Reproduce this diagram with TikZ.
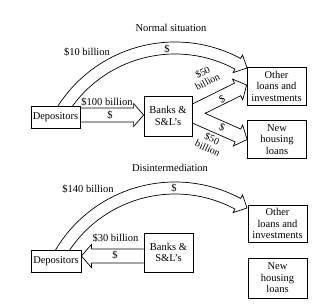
\documentclass[tikz,border=0pt]{standalone}
\usepackage{fontspec}
\setmainfont{Liberation Serif}
\usetikzlibrary{calc,backgrounds}

\def\shaftw{7pt}
\def\headw{11.5pt}
\def\headlen{10pt}
% corner points of a hollow arrow from #2 to #3
\newcommand\fatpts[3]{%
  \coordinate (#1h) at ($(#3)!\headlen!(#2)$);
  \coordinate (#1tl) at ($(#2)!\shaftw!90:(#3)$);
  \coordinate (#1tr) at ($(#2)!\shaftw!-90:(#3)$);
  \coordinate (#1bl) at ($(#1h)!\shaftw!90:(#3)$);
  \coordinate (#1br) at ($(#1h)!\shaftw!-90:(#3)$);
  \coordinate (#1hl) at ($(#1h)!\headw!90:(#3)$);
  \coordinate (#1hr) at ($(#1h)!\headw!-90:(#3)$);
}

\begin{document}
\begin{tikzpicture}[x=1pt,y=1pt,
box/.style={draw, line width=0.8pt, fill=white, align=center, inner sep=1pt, font=\fontsize{10.5}{11.5}\selectfont},
fat/.style={draw, line width=0.7pt, fill=white, line join=miter},
lbl/.style={inner sep=0pt, font=\fontsize{10.5}{11.5}\selectfont},
rlbl/.style={inner sep=0pt, align=center, font=\fontsize{10}{10.5}\selectfont},]
\useasboundingbox (0,0) rectangle (320,303);

% normal situation
\node[lbl] (title1) at (171,275) {Normal situation};
\node[box, minimum width=49pt, minimum height=22pt] (dep1) at (55.5,186) {Depositors};
\node[box, minimum width=48pt, minimum height=40pt] (bank1) at (168,187) {Banks \&\\S\&L's};
\node[box, minimum width=59pt, minimum height=38pt] (oth1) at (276.5,217) {Other\\loans and\\investments};
\node[box, minimum width=59pt, minimum height=38pt] (new1) at (277,163.5) {New\\housing\\loans};

\begin{scope}[on background layer]
  \coordinate (c1) at (175,122);
  \draw[fat] ($(c1)+(147.3:139)$) arc[start angle=147.3, end angle=61.8, radius=139]
    -- ($(c1)+(61.8:143)$) -- ($(c1)+(57.5:134)$) -- ($(c1)+(61.8:123)$)
    -- ($(c1)+(61.8:127)$) arc[start angle=61.8, end angle=143.8, radius=127];
  \coordinate (s1a) at ($(dep1.east)+(0,2)$);
  \coordinate (s1b) at (bank1.west |- s1a);
  \fatpts{s}{s1a}{s1b}
  \draw[fat] (stl) -- (sbl) -- (shl) -- (s1b) -- (shr) -- (sbr) -- (str);
  \coordinate (f1a) at ($(bank1.east)+(0,4.2)$);
  \coordinate (f1b) at ($(oth1.west)+(0,1)$);
  \coordinate (f2a) at ($(bank1.east)+(0,0.6)$);
  \coordinate (f2b) at (new1.west);
  \fatpts{u}{f1a}{f1b}
  \fatpts{d}{f2a}{f2b}
  \draw[fat] (utl) -- (ubl) -- (uhl) -- (f1b) -- (uhr) -- (ubr)
    -- (intersection of ubr--utr and dtl--dbl)
    -- (dbl) -- (dhl) -- (f2b) -- (dhr) -- (dbr) -- (dtr);
\end{scope}

\node[lbl] (l10) at (87,251) {\$10 billion};
\node[lbl] (d10) at (167,254) {\$};
\node[lbl] (l100) at (107,201) {\$100 billion};
\node[lbl] (d100) at (110,188) {\$};
\node[rlbl, rotate=27] (l50a) at (205,226) {\$50\\billion};
\node[lbl, rotate=26] (d50a) at (222,203.5) {\$};
\node[rlbl, rotate=-25] (l50b) at (210,159.5) {\$50\\billion};
\node[lbl, rotate=-23] (d50b) at (222,175.5) {\$};

% disintermediation
\node[lbl] (title2) at (170,135) {Disintermediation};
\node[box, minimum width=50pt, minimum height=22pt] (dep2) at (56,42) {Depositors};
\node[box, minimum width=49pt, minimum height=39pt] (bank2) at (168.5,50.5) {Banks \&\\S\&L's};
\node[box, minimum width=59pt, minimum height=37pt] (oth2) at (277.5,79.5) {Other\\loans and\\investments};
\node[box, minimum width=59pt, minimum height=40pt] (new2) at (277.5,25) {New\\housing\\loans};

\begin{scope}[on background layer]
  \coordinate (c2) at (175,-18);
  \draw[fat] ($(c2)+(149.3:139)$) arc[start angle=149.3, end angle=61.8, radius=139]
    -- ($(c2)+(61.8:143)$) -- ($(c2)+(57.5:134)$) -- ($(c2)+(61.8:123)$)
    -- ($(c2)+(61.8:127)$) arc[start angle=61.8, end angle=146.0, radius=127];
  \coordinate (s2b) at ($(dep2.east)+(0,5)$);
  \coordinate (s2a) at (bank2.west |- s2b);
  \fatpts{v}{s2a}{s2b}
  \draw[fat] (vtl) -- (vbl) -- (vhl) -- (s2b) -- (vhr) -- (vbr) -- (vtr);
\end{scope}

\node[lbl] (l140) at (88,114) {\$140 billion};
\node[lbl] (d140) at (174,115) {\$};
\node[lbl] (l30) at (115.5,65) {\$30 billion};
\node[lbl] (d30) at (115,48) {\$};
\end{tikzpicture}
\end{document}
